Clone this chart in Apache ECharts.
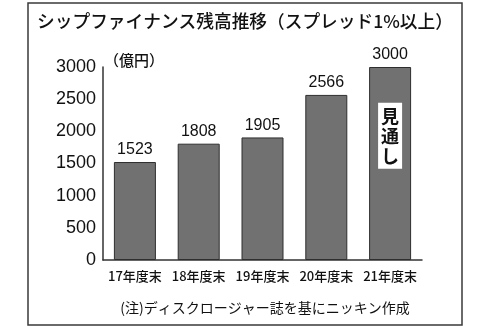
<!DOCTYPE html>
<html><head><meta charset="utf-8">
<script src="https://cdn.jsdelivr.net/npm/echarts@6/dist/echarts.min.js"></script>
<style>html,body{margin:0;padding:0;background:#fff}#c{width:491px;height:328px}</style>
</head><body><div id="c"></div>
<script>
const categories = ['17年度末', '18年度末', '19年度末', '20年度末', '21年度末'];
const values = [1523, 1808, 1905, 2566, 3000];
const yTicks = [0, 500, 1000, 1500, 2000, 2500, 3000];
const titleText = 'シップファイナンス残高推移（スプレッド1%以上）';
const unitText = '（億円）';
const noteText = '(注)ディスクロージャー誌を基にニッキン作成';
const forecastText = '見\n通\nし';
const forecastIndex = 4;
const forecastCenterValue = 1930;

const chart = echarts.init(document.getElementById('c'), null, {renderer: 'canvas'});
const jp = '"Noto Sans CJK JP", sans-serif';
const num = '"Liberation Sans Narrow", "Liberation Sans", Arial, sans-serif';
chart.setOption({
  animation: false,
  backgroundColor: '#fff',
  graphic: [
    {type: 'rect', shape: {x: 28, y: 3, width: 434, height: 322},
     style: {fill: 'none', stroke: '#3a3a3a', lineWidth: 1.5}, silent: true},
    {type: 'text', x: 245, y: 21, style: {text: titleText, font: '500 17.7px ' + jp,
     fill: '#111', textAlign: 'center', textVerticalAlign: 'middle'}},
    {type: 'text', x: 104, y: 60, style: {text: unitText, font: '500 15px ' + jp,
     fill: '#111', textAlign: 'left', textVerticalAlign: 'middle'}},
    {type: 'text', x: 265, y: 308, style: {text: noteText, font: '14px ' + jp,
     fill: '#111', textAlign: 'center', textVerticalAlign: 'middle'}}
  ],
  grid: {left: 103, right: 69, top: 67, bottom: 68, containLabel: false},
  xAxis: {
    type: 'category', data: categories,
    axisLine: {lineStyle: {color: '#333', width: 1.5}},
    axisTick: {show: false},
    axisLabel: {interval: 0, color: '#111', fontSize: 13, fontWeight: 500, fontFamily: jp, margin: 10}
  },
  yAxis: {
    type: 'value', min: 0, max: 3000, interval: 500,
    splitLine: {show: false},
    axisLine: {show: true, lineStyle: {color: '#333', width: 1.5}},
    axisTick: {show: false},
    axisLabel: {color: '#111', fontSize: 18, fontFamily: '"Liberation Sans", Arial, sans-serif', margin: 7,
      formatter: function (v) { return String(v); }}
  },
  series: [{
    type: 'bar', data: values, barWidth: 42,
    itemStyle: {color: '#717171', borderColor: '#2e2e2e', borderWidth: 1},
    label: {show: true, position: 'top', distance: 4, color: '#111', fontSize: 16, fontFamily: num},
    markPoint: {
      silent: true,
      data: [{coord: [forecastIndex, forecastCenterValue], value: forecastText}],
      symbol: 'rect', symbolSize: [24, 66],
      itemStyle: {color: '#fff', borderWidth: 0},
      label: {show: true, position: 'inside', formatter: forecastText, color: '#111',
        fontSize: 18, fontWeight: 'bold', fontFamily: jp, lineHeight: 20}
    }
  }]
});
</script></body></html>
